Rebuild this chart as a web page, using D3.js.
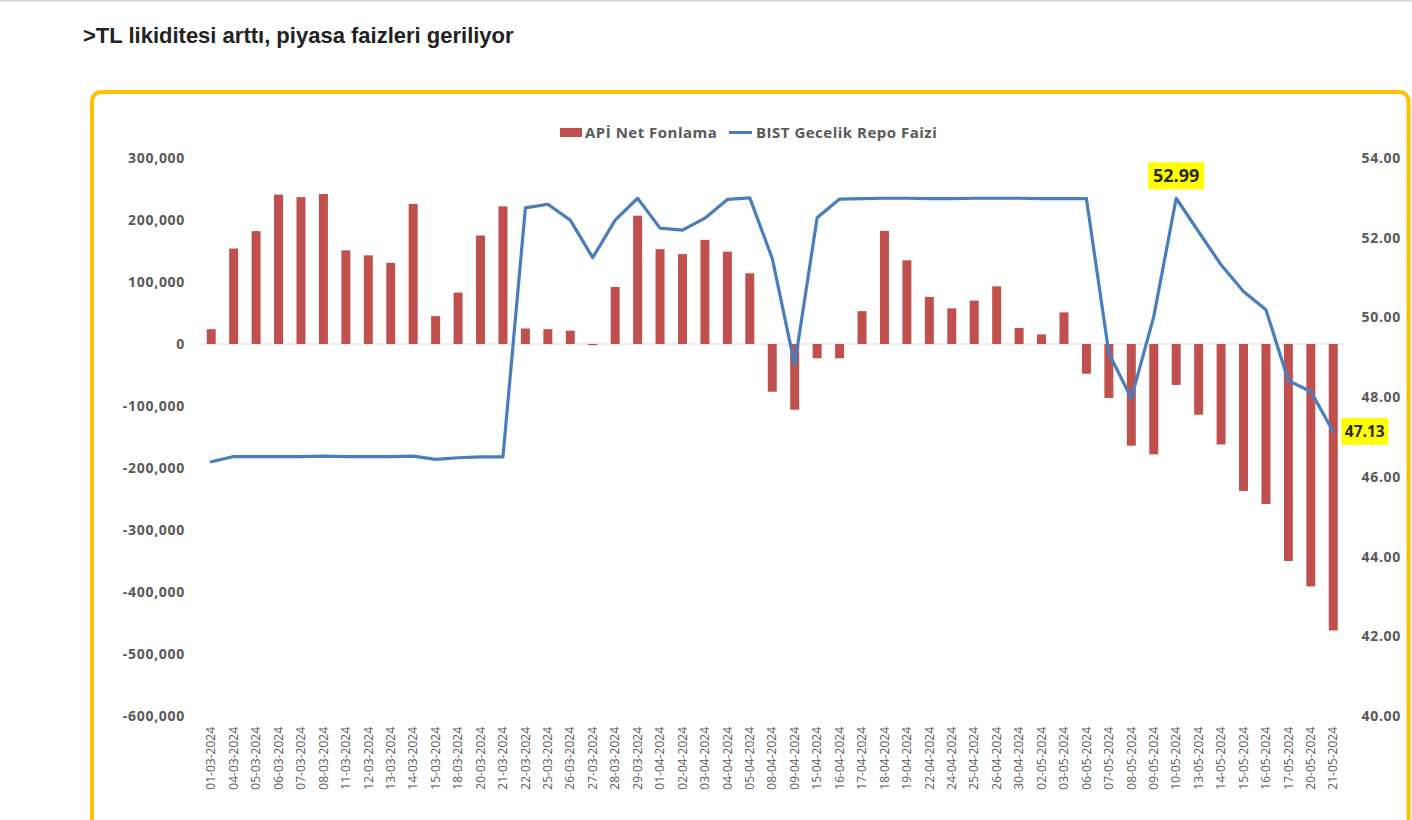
<!DOCTYPE html>
<html>
<head>
<meta charset="utf-8">
<script src="https://cdn.jsdelivr.net/npm/d3@7/dist/d3.min.js"></script>
<style>
  html, body { margin: 0; padding: 0; background: #fff; }
  svg { display: block; }
</style>
</head>
<body>
<svg id="chart" width="1412" height="820"></svg>
<script>
const dates = ["01-03-2024","04-03-2024","05-03-2024","06-03-2024","07-03-2024","08-03-2024","11-03-2024","12-03-2024","13-03-2024","14-03-2024","15-03-2024","18-03-2024","20-03-2024","21-03-2024","22-03-2024","25-03-2024","26-03-2024","27-03-2024","28-03-2024","29-03-2024","01-04-2024","02-04-2024","03-04-2024","04-04-2024","05-04-2024","08-04-2024","09-04-2024","15-04-2024","16-04-2024","17-04-2024","18-04-2024","19-04-2024","22-04-2024","24-04-2024","25-04-2024","26-04-2024","30-04-2024","02-05-2024","03-05-2024","06-05-2024","07-05-2024","08-05-2024","09-05-2024","10-05-2024","13-05-2024","14-05-2024","15-05-2024","16-05-2024","17-05-2024","20-05-2024","21-05-2024"];

const netFunding = [24000,154000,182000,241000,237000,242000,151000,143000,131000,226000,45000,83000,175000,222000,25000,24000,21500,-2000,92000,207000,153000,145000,168000,149000,114000,-77000,-106000,-23000,-23000,53000,182500,135000,76000,57500,70000,93000,26000,15500,51000,-48000,-87000,-164000,-178000,-66000,-114000,-162000,-237000,-258000,-350000,-391000,-462000];

const repoRate = [46.38,46.51,46.51,46.51,46.51,46.52,46.51,46.51,46.51,46.52,46.44,46.48,46.50,46.50,52.75,52.84,52.44,51.50,52.44,52.99,52.24,52.19,52.49,52.96,53.00,51.48,48.81,52.50,52.97,52.98,52.99,52.99,52.98,52.98,52.99,52.99,52.99,52.98,52.98,52.98,49.10,47.97,50.02,52.99,52.15,51.32,50.65,50.19,48.41,48.14,47.13];

const leftTicks = [300000,200000,100000,0,-100000,-200000,-300000,-400000,-500000,-600000];
const rightTicks = [54,52,50,48,46,44,42,40];

const seriesNames = ["APİ Net Fonlama", "BIST Gecelik Repo Faizi"];
const callouts = [
  { date: "10-05-2024", label: "52.99", pos: "above" },
  { date: "21-05-2024", label: "47.13", pos: "right" }
];
const titleText = ">TL likiditesi arttı, piyasa faizleri geriliyor";

const svg = d3.select("#chart");
const barColor = "#C0504D", lineColor = "#4A7EBB", textGray = "#595959";
const fontAxis = "'Open Sans', sans-serif";

// top gray rule
svg.append("rect").attr("x", 0).attr("y", 0).attr("width", 1412).attr("height", 1.5).attr("fill", "#d4d4d4");

// title
svg.append("text").attr("x", 83).attr("y", 43)
  .attr("font-family", "'Liberation Sans', Arial, sans-serif")
  .attr("font-weight", "bold").attr("font-size", 22).attr("fill", "#222")
  .text(titleText);

// yellow frame
svg.append("rect").attr("x", 92).attr("y", 92).attr("width", 1316.5).attr("height", 780)
  .attr("rx", 9).attr("fill", "#fff").attr("stroke", "#FFC000").attr("stroke-width", 4);

const L = 200, R = 1344.5, T = 158, B = 716;

const x = d3.scaleBand().domain(dates).range([L, R]).paddingInner(0.6).paddingOuter(0.3);
const yL = d3.scaleLinear().domain([-600000, 300000]).range([B, T]);
const yR = d3.scaleLinear().domain([40, 54]).range([B, T]);

const loc = d3.formatLocale({ decimal: ".", thousands: ",", grouping: [3], currency: ["", ""], minus: "-" });
const fmtL = loc.format(",");
const fmtR = loc.format(".2f");

// zero line
svg.append("line").attr("x1", L).attr("x2", R).attr("y1", yL(0)).attr("y2", yL(0))
  .attr("stroke", "#d9d9d9").attr("stroke-width", 1.2);

// bars
svg.append("g").selectAll("rect").data(netFunding).join("rect")
  .attr("x", (d, i) => x(dates[i]))
  .attr("width", x.bandwidth())
  .attr("y", d => Math.min(yL(d), yL(0)))
  .attr("height", d => Math.abs(yL(d) - yL(0)))
  .attr("fill", barColor);

// line
const line = d3.line().x((d, i) => x(dates[i]) + x.bandwidth() / 2).y(d => yR(d));
svg.append("path").datum(repoRate).attr("d", line)
  .attr("fill", "none").attr("stroke", lineColor).attr("stroke-width", 3.2)
  .attr("stroke-linejoin", "round").attr("stroke-linecap", "round");

// axes
function styleAxis(g) {
  g.select(".domain").remove();
  g.selectAll("text").attr("font-family", fontAxis).attr("fill", textGray);
}
const gL = svg.append("g").attr("transform", `translate(${L},0)`)
  .call(d3.axisLeft(yL).tickValues(leftTicks).tickFormat(fmtL).tickSize(0).tickPadding(15));
styleAxis(gL);
gL.selectAll("text").attr("font-size", 14).attr("font-weight", 700).attr("letter-spacing", 0.7);

const gR = svg.append("g").attr("transform", `translate(${R},0)`)
  .call(d3.axisRight(yR).tickValues(rightTicks).tickFormat(fmtR).tickSize(0).tickPadding(17));
styleAxis(gR);
gR.selectAll("text").attr("font-size", 14).attr("font-weight", 700).attr("letter-spacing", 0.7);

const gX = svg.append("g").attr("transform", `translate(0,${B})`)
  .call(d3.axisBottom(x).tickSize(0));
styleAxis(gX);
gX.selectAll("text").attr("font-size", 12)
  .attr("transform", "rotate(-90)").attr("text-anchor", "end")
  .attr("x", -11).attr("y", 0).attr("dy", "0.35em");

// legend
const lg = svg.append("g").attr("font-family", fontAxis).attr("font-size", 15).attr("font-weight", 700)
  .attr("letter-spacing", 0.5).attr("fill", textGray);
lg.append("rect").attr("x", 560).attr("y", 128).attr("width", 22).attr("height", 9).attr("fill", barColor);
lg.append("text").attr("x", 585).attr("y", 138).text(seriesNames[0]);
lg.append("line").attr("x1", 729).attr("x2", 752).attr("y1", 132.5).attr("y2", 132.5).attr("stroke", lineColor).attr("stroke-width", 3);
lg.append("text").attr("x", 756).attr("y", 138).text(seriesNames[1]);

// callouts
callouts.forEach(c => {
  const i = dates.indexOf(c.date);
  const px = x(c.date) + x.bandwidth() / 2, py = yR(repoRate[i]);
  const g = svg.append("g");
  if (c.pos === "above") {
    g.append("rect").attr("x", px - 28).attr("y", py - 36).attr("width", 56).attr("height", 27).attr("fill", "#FFFF00");
    g.append("text").attr("x", px).attr("y", py - 16).attr("text-anchor", "middle")
      .attr("font-family", fontAxis).attr("font-weight", 700).attr("font-size", 18).attr("fill", "#2b2b2b").text(c.label);
  } else {
    g.append("rect").attr("x", px + 8).attr("y", py - 14).attr("width", 47).attr("height", 27).attr("fill", "#FFFF00");
    g.append("text").attr("x", px + 31.5).attr("y", py + 5.5).attr("text-anchor", "middle")
      .attr("font-family", fontAxis).attr("font-weight", 700).attr("font-size", 15.5).attr("fill", "#2b2b2b").text(c.label);
  }
});
</script>
</body>
</html>
